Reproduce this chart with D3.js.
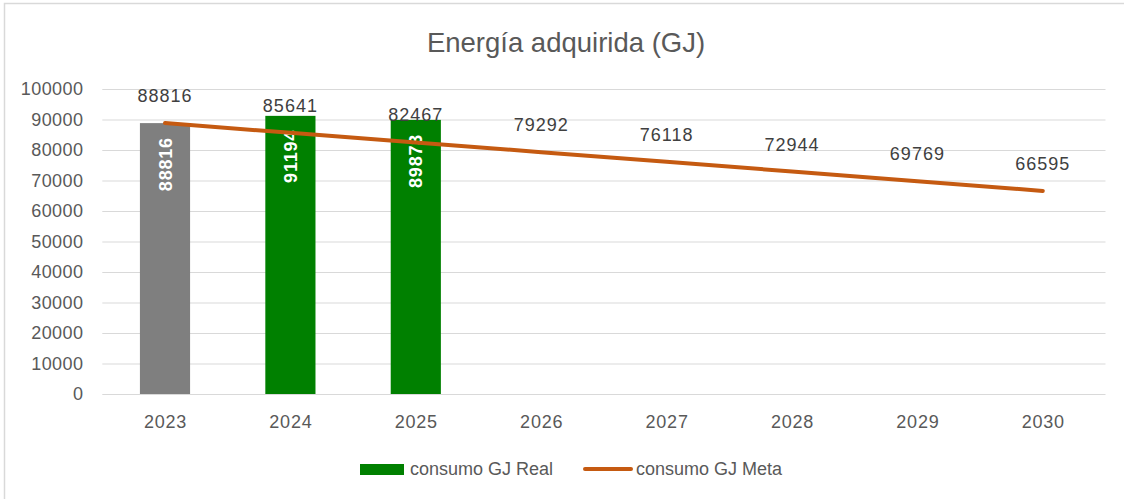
<!DOCTYPE html>
<html><head><meta charset="utf-8">
<script src="https://cdn.jsdelivr.net/npm/d3@7"></script>
<style>body{margin:0;background:#fff;}svg{display:block;font-family:"Liberation Sans",Arial,sans-serif;}</style>
</head><body>
<svg id="c" width="1124" height="499"></svg>
<script>
const years = ["2023","2024","2025","2026","2027","2028","2029","2030"];
const realValues = [88816, 91194, 89873, null, null, null, null, null];
const metaValues = [88816, 85641, 82467, 79292, 76118, 72944, 69769, 66595];
const yTicks = [0,10000,20000,30000,40000,50000,60000,70000,80000,90000,100000];
const title = "Energía adquirida (GJ)";
const seriesNames = ["consumo GJ Real", "consumo GJ Meta"];

const svg = d3.select("#c");
svg.append("rect").attr("x",4.5).attr("y",3.5).attr("width",1130).attr("height",510)
  .attr("fill","#fff").attr("stroke","#d9d9d9").attr("stroke-width",1.5);

const m = {l:102.3, r:1105.5, t:89, b:394};
const x = d3.scaleBand().domain(years).range([m.l, m.r]).paddingInner(0.6).paddingOuter(0.3);
const xc = d3.scalePoint().domain(years).range([m.l, m.r]).padding(0.5);
const y = d3.scaleLinear().domain([0,100000]).range([m.b, m.t]);

// grid + y axis
const yAxis = d3.axisLeft(y).tickValues(yTicks).tickSize(-(m.r-m.l)).tickFormat(d=>String(d));
const gy = svg.append("g").attr("transform",`translate(${m.l},0)`).call(yAxis);
gy.select(".domain").remove();
gy.selectAll("line").attr("stroke","#d9d9d9").attr("stroke-width",1.2);
gy.selectAll("text").attr("x",-19).attr("fill","#595959").style("font-size","18px").style("letter-spacing","0.4px");

// x axis
const xAxis = d3.axisBottom(xc).tickSize(0).tickPadding(21);
const gx = svg.append("g").attr("transform",`translate(0,${m.b})`).call(xAxis);
gx.select(".domain").remove();
gx.selectAll("text").attr("fill","#595959").style("font-size","18px").style("letter-spacing","0.8px");

// bars
const barData = years.map((yr,i)=>({yr, v: realValues[i], i})).filter(d=>d.v!=null);
svg.append("g").selectAll("rect").data(barData).enter().append("rect")
  .attr("x",d=>x(d.yr)).attr("width",x.bandwidth())
  .attr("y",d=>y(d.v)).attr("height",d=>m.b-y(d.v))
  .attr("fill",d=>d.i===0?"#7f7f7f":"#008000");

// bar labels
svg.append("g").selectAll("text").data(barData).enter().append("text")
  .attr("transform",d=>`translate(${x(d.yr)+x.bandwidth()/2+6.5},${y(d.v)+14}) rotate(-90)`)
  .attr("text-anchor","end").attr("fill","#fff").attr("font-weight","bold")
  .style("font-size","18px").style("letter-spacing","0.8px").text(d=>d.v);

// line
const line = d3.line().x((d,i)=>xc(years[i])).y(d=>y(d));
svg.append("path").datum(metaValues).attr("d",line).attr("fill","none")
  .attr("stroke","#c55a11").attr("stroke-width",4).attr("stroke-linecap","round");

// line labels
svg.append("g").selectAll("text").data(metaValues).enter().append("text")
  .attr("x",(d,i)=>xc(years[i])).attr("y",d=>y(d)-21)
  .attr("text-anchor","middle").attr("fill","#404040").style("font-size","18px").style("letter-spacing","1px").text(d=>d);

// title
svg.append("text").attr("x",566).attr("y",52).attr("text-anchor","middle")
  .attr("fill","#595959").style("font-size","27.5px").text(title);

// legend
const lg = svg.append("g").attr("transform","translate(0,469)");
lg.append("rect").attr("x",360).attr("y",-5).attr("width",44).attr("height",11).attr("fill","#008000");
lg.append("text").attr("x",410).attr("y",6).attr("fill","#595959").style("font-size","18px").text(seriesNames[0]);
lg.append("line").attr("x1",585).attr("x2",631).attr("y1",0).attr("y2",0)
  .attr("stroke","#c55a11").attr("stroke-width",4).attr("stroke-linecap","round");
lg.append("text").attr("x",636).attr("y",6).attr("fill","#595959").style("font-size","18px").text(seriesNames[1]);
</script>
</body></html>
